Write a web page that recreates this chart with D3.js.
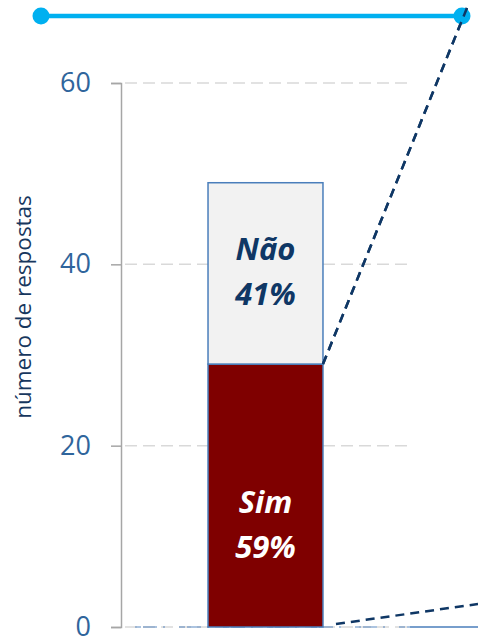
<!DOCTYPE html>
<html>
<head>
<meta charset="utf-8">
<script src="https://cdn.jsdelivr.net/npm/d3@7"></script>
<style>
  body { margin: 0; background: #fff; }
  svg { display: block; font-family: "Open Sans", sans-serif; }
</style>
</head>
<body>
<svg id="chart" width="478" height="636"></svg>
<script>
// data
const categories = ["Resposta"];
const answers = ["Sim", "Não"];
const counts = [29, 20];
const yTicks = [0, 20, 40, 60];
const yTitle = "número de respostas";

const colors = { "Sim": "#7f0000", "Não": "#f2f2f2" };
const labelColors = { "Sim": "#ffffff", "Não": "#0f3765" };
// label shift from segment middle (Sim label sits lower in the original)
const labelShift = { "Sim": 28, "Não": -2 };

const svg = d3.select("#chart");
const width = 478, height = 636;
const plotLeft = 121, plotRight = 410, plotTop = 83, plotBottom = 627;

let y = d3.scaleLinear().domain([0, 60]).range([plotBottom, plotTop]);
let x = d3.scaleBand().domain(categories).range([plotLeft, plotRight]).paddingInner(0).paddingOuter(0.757);

let total = d3.sum(counts);
let stackData = [];
let acc = 0;
for (let i = 0; i < answers.length; i++) {
    stackData.push({ key: answers[i], y0: acc, y1: acc + counts[i], pct: Math.round(counts[i] / total * 100) });
    acc += counts[i];
}

// gridlines
svg.append("g")
    .selectAll("line")
    .data(yTicks)
    .enter()
    .append("line")
    .attr("x1", plotLeft + 4)
    .attr("x2", plotRight)
    .attr("y1", d => y(d))
    .attr("y2", d => y(d))
    .attr("stroke", "#d9d9d9")
    .attr("stroke-width", 1.5)
    .attr("stroke-dasharray", "12,6");

// baseline (blue across the bottom)
svg.append("line")
    .attr("x1", plotLeft).attr("x2", plotRight)
    .attr("y1", y(0)).attr("y2", y(0))
    .attr("stroke", "#4a7ebb").attr("stroke-width", 1.2)
    .attr("stroke-dasharray", "0,14,6,2,0")
    .attr("opacity", 0.9);
svg.append("line")
    .attr("x1", plotRight).attr("x2", width)
    .attr("y1", y(0)).attr("y2", y(0))
    .attr("stroke", "#4a7ebb").attr("stroke-width", 1.5);

// y axis
let yAxis = d3.axisLeft(y).tickValues(yTicks).tickSize(10).tickPadding(8);
let axisG = svg.append("g")
    .attr("transform", "translate(" + plotLeft + ",0)")
    .call(yAxis);
axisG.select(".domain").attr("stroke", "#a6a6a6").attr("stroke-width", 1.5);
axisG.selectAll(".tick line").attr("stroke", "#a6a6a6").attr("stroke-width", 1.5);
axisG.selectAll(".tick text")
    .attr("fill", "#2f659c")
    .attr("font-size", 27)
    .attr("font-family", "Open Sans, sans-serif")
    .attr("dx", "-12");

// axis title
svg.append("text")
    .attr("transform", "translate(31,307) rotate(-90)")
    .attr("text-anchor", "middle")
    .attr("font-size", 22.5)
    .attr("fill", "#17375e")
    .text(yTitle);

// stacked bar
let barX = x(categories[0]);
let barW = x.bandwidth();
svg.append("g")
    .selectAll("rect")
    .data(stackData)
    .enter()
    .append("rect")
    .attr("x", barX)
    .attr("width", barW)
    .attr("y", d => y(d.y1))
    .attr("height", d => y(d.y0) - y(d.y1))
    .attr("fill", d => colors[d.key])
    .attr("stroke", "#4a7ebb")
    .attr("stroke-width", 1.5);

// labels
let labelsG = svg.append("g");
stackData.forEach(function (d) {
    let mid = (y(d.y0) + y(d.y1)) / 2 + labelShift[d.key];
    let t = labelsG.append("text")
        .attr("text-anchor", "middle")
        .attr("font-size", 31)
        .attr("font-weight", "bold")
        .attr("font-style", "italic")
        .attr("fill", labelColors[d.key]);
    t.append("tspan").attr("x", barX + barW / 2).attr("y", mid - 11).text(d.key);
    t.append("tspan").attr("x", barX + barW / 2).attr("y", mid + 34).text(d.pct + "%");
});

// breakout connector lines (to the next chart, off to the right)
let barRight = barX + barW;
let connectors = [
    { x1: barRight, y1: y(counts[0]), x2: barRight + 146, y2: 3 },
    { x1: barRight + 13, y1: y(0) - 3, x2: width, y2: y(0) - 23 }
];
svg.append("g")
    .selectAll("line")
    .data(connectors)
    .enter()
    .append("line")
    .attr("x1", d => d.x1).attr("y1", d => d.y1)
    .attr("x2", d => d.x2).attr("y2", d => d.y2)
    .attr("stroke", "#0f3765")
    .attr("stroke-width", 2.5)
    .attr("stroke-dasharray", "9,6");

// top bracket line
let topY = 16;
svg.append("line")
    .attr("x1", 41).attr("x2", 462)
    .attr("y1", topY).attr("y2", topY)
    .attr("stroke", "#00b0f0").attr("stroke-width", 4.5);
svg.append("g")
    .selectAll("circle")
    .data([41, 462])
    .enter()
    .append("circle")
    .attr("cx", d => d).attr("cy", topY).attr("r", 8.5)
    .attr("fill", "#00b0f0");
// redraw the upper connector over the dot
svg.append("line")
    .attr("x1", connectors[0].x1).attr("y1", connectors[0].y1)
    .attr("x2", connectors[0].x2).attr("y2", connectors[0].y2)
    .attr("stroke", "#0f3765").attr("stroke-width", 2.5)
    .attr("stroke-dasharray", "9,6");
</script>
</body>
</html>
